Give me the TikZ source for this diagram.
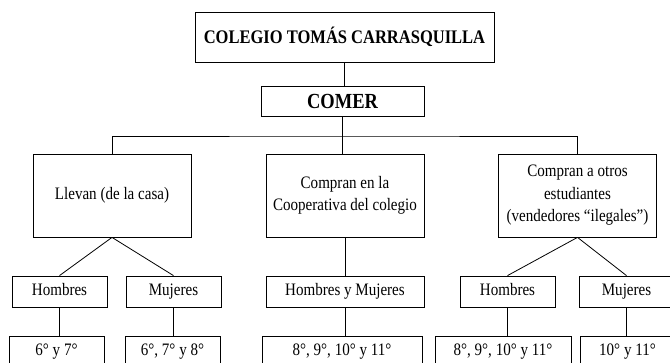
\documentclass[tikz,border=0pt]{standalone}
\usepackage{fontspec}
\setmainfont[FakeStretch=0.86]{Liberation Serif}
\tikzset{
    caja/.style={
        draw,
        align=center,
        inner sep=2pt,
        font=\fontsize{17.5}{22.5}\selectfont
    },
    nivel/.style={
        caja,
        minimum width=158pt,
        minimum height=83pt
    },
    grupo/.style={
        caja,
        minimum width=95pt,
        minimum height=31pt,
        text height=12pt,
        text depth=4pt
    }
}
\begin{document}
\begin{tikzpicture}[
    x=1pt,
    y=-1pt,
    line width=0.8pt
]

    \clip (0,0) rectangle (670,363);

    % Cabecera
    \node[caja, minimum width=299pt, minimum height=50pt,
          font=\fontsize{19.2}{22}\selectfont\bfseries]  (colegio) at (344.5,37)  {COLEGIO TOMÁS CARRASQUILLA};
    \node[caja, minimum width=163pt, minimum height=30pt,
          font=\fontsize{21.5}{22}\selectfont\bfseries]  (comer)   at (342.5,101) {COMER};
    \coordinate (bus) at (344,136);

    % Formas de comer
    \node[nivel] (llevan) at (112,195.5)   {Llevan (de la casa)};
    \node[nivel] (coop)   at (345,195.5)   {Compran en la\\Cooperativa del colegio};
    \node[nivel] (otros)  at (577.5,195.5) {Compran a otros\\estudiantes\\(vendedores “ilegales”)};

    % Hombres y mujeres
    \node[grupo] (hom1)  at (59.5,291.5)  {Hombres};
    \node[grupo] (muj1)  at (173.5,291.5) {Mujeres};
    \node[grupo, minimum width=158pt] (hymuj) at (345,291.5) {Hombres y Mujeres};
    \node[grupo] (hom2)  at (507.5,291.5) {Hombres};
    \node[grupo] (muj2)  at (626.5,291.5) {Mujeres};

    % Grados
    \node[grupo] (gra1) at (56.5,351.5)  {6° y 7°};
    \node[grupo] (gra2) at (172.5,351.5) {6°, 7° y 8°};
    \node[grupo, minimum width=160pt] (gra3) at (342,351.5) {8°, 9°, 10° y 11°};
    \node[grupo, minimum width=136pt] (gra4) at (503,351.5) {8°, 9°, 10° y 11°};
    \node[grupo] (gra5) at (627.5,351.5) {10° y 11°};

    % Lineas
    \draw (colegio.south) -- (colegio.south |- comer.north);
    \draw (comer.south) -- (comer.south |- coop.north);
    \draw (llevan.north) |- (bus) -| (otros.north);

    \draw (llevan.south) -- (hom1.north);
    \draw (llevan.south) -- (muj1.north);
    \draw (coop) -- (hymuj);
    \draw (otros.south) -- (hom2.north);
    \draw (otros.south) -- (muj2.north);

    \draw (hom1.south)  -- (hom1.south |- gra1.north);
    \draw (muj1.south)  -- (muj1.south |- gra2.north);
    \draw (hymuj.south) -- (hymuj.south |- gra3.north);
    \draw (hom2.south)  -- (hom2.south |- gra4.north);
    \draw (muj2.south)  -- (muj2.south |- gra5.north);

\end{tikzpicture}
\end{document}
